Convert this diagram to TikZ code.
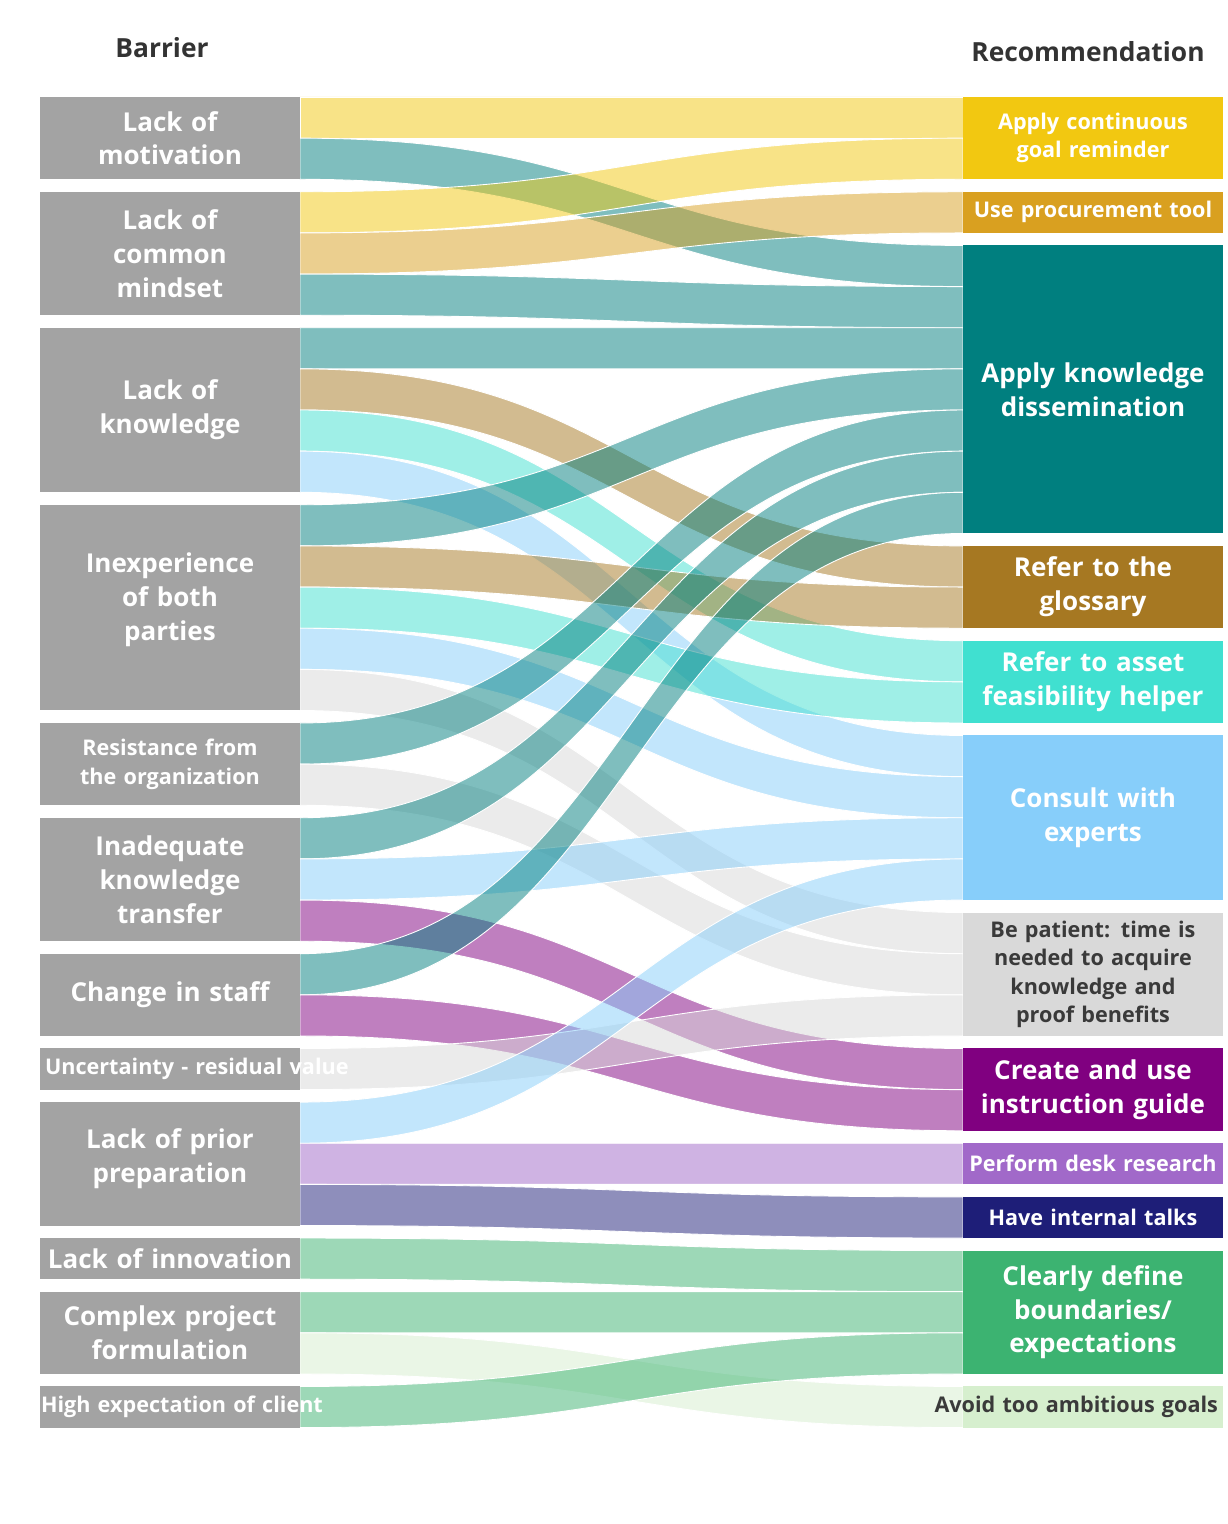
\documentclass[tikz,border=0pt]{standalone}
\usepackage{fontspec}
\setmainfont{Open Sans}
\usepackage{xcolor}
\usetikzlibrary{calc,positioning,backgrounds}

\definecolor{barrier}{HTML}{A3A3A3}
\definecolor{goalc}{HTML}{F2C811}
\definecolor{procc}{HTML}{D9A020}
\definecolor{dissc}{HTML}{007F7F}
\definecolor{glosc}{HTML}{A67822}
\definecolor{assetc}{HTML}{40E0D0}
\definecolor{consc}{HTML}{87CEFA}
\definecolor{patc}{HTML}{D9D9D9}
\definecolor{createc}{HTML}{800080}
\definecolor{deskc}{HTML}{A169C9}
\definecolor{talkc}{HTML}{1E1E78}
\definecolor{clearc}{HTML}{3CB371}
\definecolor{avoidc}{HTML}{D6EFCE}
\definecolor{headc}{HTML}{333333}
\definecolor{darktxt}{HTML}{3A3A3A}

\newcommand{\bigtxt}{\fontsize{14.8}{19.3}\selectfont\bfseries}
\newcommand{\smalltxt}{\fontsize{12.3}{16.2}\selectfont\bfseries}

% one band of the sankey: source node, slot, target node, slot, colour
\newcommand{\bandw}{41.15}
\newcommand{\flowband}[5]{%
  \draw[band, fill=#5] ($(#1.north east)+(0,#2*\bandw)$)
    .. controls +(331.5,0) and +(-331.5,0) .. ($(#3.north west)+(0,#4*\bandw)$)
    -- ++(0,\bandw)
    .. controls +(-331.5,0) and +(331.5,0) .. ($(#1.north east)+(0,#2*\bandw+\bandw)$)
    -- cycle;}

\begin{document}
\begin{tikzpicture}[
    x=0.02cm, y=-0.02cm,
    node distance=0.25cm,
    lbox/.style={rectangle, fill=barrier, text=white, minimum width=5.2cm,
      minimum height=#1*0.823cm, text width=5cm, inner xsep=0.1cm,
      inner ysep=0pt, outer sep=0pt, align=center, font=\bigtxt},
    rbox/.style={lbox=#1},
    head/.style={text=headc, font=\fontsize{15}{18}\selectfont\bfseries},
    band/.style={fill opacity=0.5, draw=white, line width=0.5pt}
]
    \useasboundingbox (0,0) rectangle (1227,1524);

    \node[head] (barhead) at (162,48) {Barrier};
    \node[head] (rechead) at (1088,52) {Recommendation};

    % barriers
    \node[lbox=2, anchor=north west] (mot) at (40,97) {Lack of\\motivation};
    \node[lbox=3, below=of mot] (mind) {Lack of\\common\\mindset};
    \node[lbox=4, below=of mind] (know) {Lack of\\knowledge};
    \node[lbox=5, below=of know, text depth=51pt] (inexp) {Inexperience\\of both\\parties};
    \node[lbox=2, below=of inexp, font=\smalltxt] (resist) {Resistance from\\the organization};
    \node[lbox=3, below=of resist] (inadq) {Inadequate\\knowledge\\transfer};
    \node[lbox=2, below=of inadq] (staff) {Change in staff};
    \node[lbox=1, below=of staff, font=\smalltxt, align=left] (uncert) {\mbox{Uncertainty - residual value}};
    \node[lbox=3, below=of uncert, text depth=29pt] (prior) {Lack of prior\\preparation};
    \node[lbox=1, below=of prior] (innov) {\mbox{Lack of innovation}};
    \node[lbox=2, below=of innov] (complex) {Complex project\\formulation};
    \node[lbox=1, below=of complex, font=\smalltxt, align=left, inner xsep=0.02cm, text width=5.16cm] (high) {\mbox{High expectation of client}};

    % recommendations
    \node[rbox=2, fill=goalc, anchor=north west, font=\smalltxt] (goal) at (963,97) {Apply continuous\\goal reminder};
    \node[rbox=1, fill=procc, below=of goal, font=\smalltxt] (proc) {\mbox{Use procurement tool}};
    \node[rbox=7, fill=dissc, below=of proc] (diss) {Apply knowledge\\dissemination};
    \node[rbox=2, fill=glosc, below=of diss] (glos) {Refer to the\\glossary};
    \node[rbox=2, fill=assetc, below=of glos] (asset) {Refer to asset\\feasibility helper};
    \node[rbox=4, fill=consc, below=of asset] (cons) {Consult with\\experts};
    \node[rbox=3, fill=patc, below=of cons, font=\smalltxt, text=darktxt] (pat) {Be patient: time is\\needed to acquire\\knowledge and\\proof benefits};
    \node[rbox=2, fill=createc, below=of pat] (create) {Create and use\\instruction guide};
    \node[rbox=1, fill=deskc, below=of create, font=\smalltxt, inner xsep=0.04cm, text width=5.12cm] (desk) {\mbox{Perform desk research}};
    \node[rbox=1, fill=talkc, below=of desk, font=\smalltxt] (talks) {Have internal talks};
    \node[rbox=3, fill=clearc, below=of talks] (clear) {Clearly define\\boundaries/\\expectations};
    \node[rbox=1, fill=avoidc, below=of clear, font=\smalltxt, text=darktxt, align=right] (avoid) {\llap{Avoid too ambitious goals}};

    \begin{scope}[on background layer]
    \fill[white] (0,0) rectangle (1227,1524);
    \flowband{mot}{0}{goal}{0}{goalc}
    \flowband{mot}{1}{diss}{0}{dissc}
    \flowband{mind}{0}{goal}{1}{goalc}
    \flowband{mind}{1}{proc}{0}{procc}
    \flowband{mind}{2}{diss}{1}{dissc}
    \flowband{know}{0}{diss}{2}{dissc}
    \flowband{know}{1}{glos}{0}{glosc}
    \flowband{know}{2}{asset}{0}{assetc}
    \flowband{know}{3}{cons}{0}{consc}
    \flowband{inexp}{0}{diss}{3}{dissc}
    \flowband{inexp}{1}{glos}{1}{glosc}
    \flowband{inexp}{2}{asset}{1}{assetc}
    \flowband{inexp}{3}{cons}{1}{consc}
    \flowband{inexp}{4}{pat}{0}{patc}
    \flowband{resist}{0}{diss}{4}{dissc}
    \flowband{resist}{1}{pat}{1}{patc}
    \flowband{inadq}{0}{diss}{5}{dissc}
    \flowband{inadq}{1}{cons}{2}{consc}
    \flowband{inadq}{2}{create}{0}{createc}
    \flowband{staff}{0}{diss}{6}{dissc}
    \flowband{staff}{1}{create}{1}{createc}
    \flowband{uncert}{0}{pat}{2}{patc}
    \flowband{prior}{0}{cons}{3}{consc}
    \flowband{prior}{1}{desk}{0}{deskc}
    \flowband{prior}{2}{talks}{0}{talkc}
    \flowband{innov}{0}{clear}{0}{clearc}
    \flowband{complex}{0}{clear}{1}{clearc}
    \flowband{complex}{1}{avoid}{0}{avoidc}
    \flowband{high}{0}{clear}{2}{clearc}
    \end{scope}
\end{tikzpicture}
\end{document}
